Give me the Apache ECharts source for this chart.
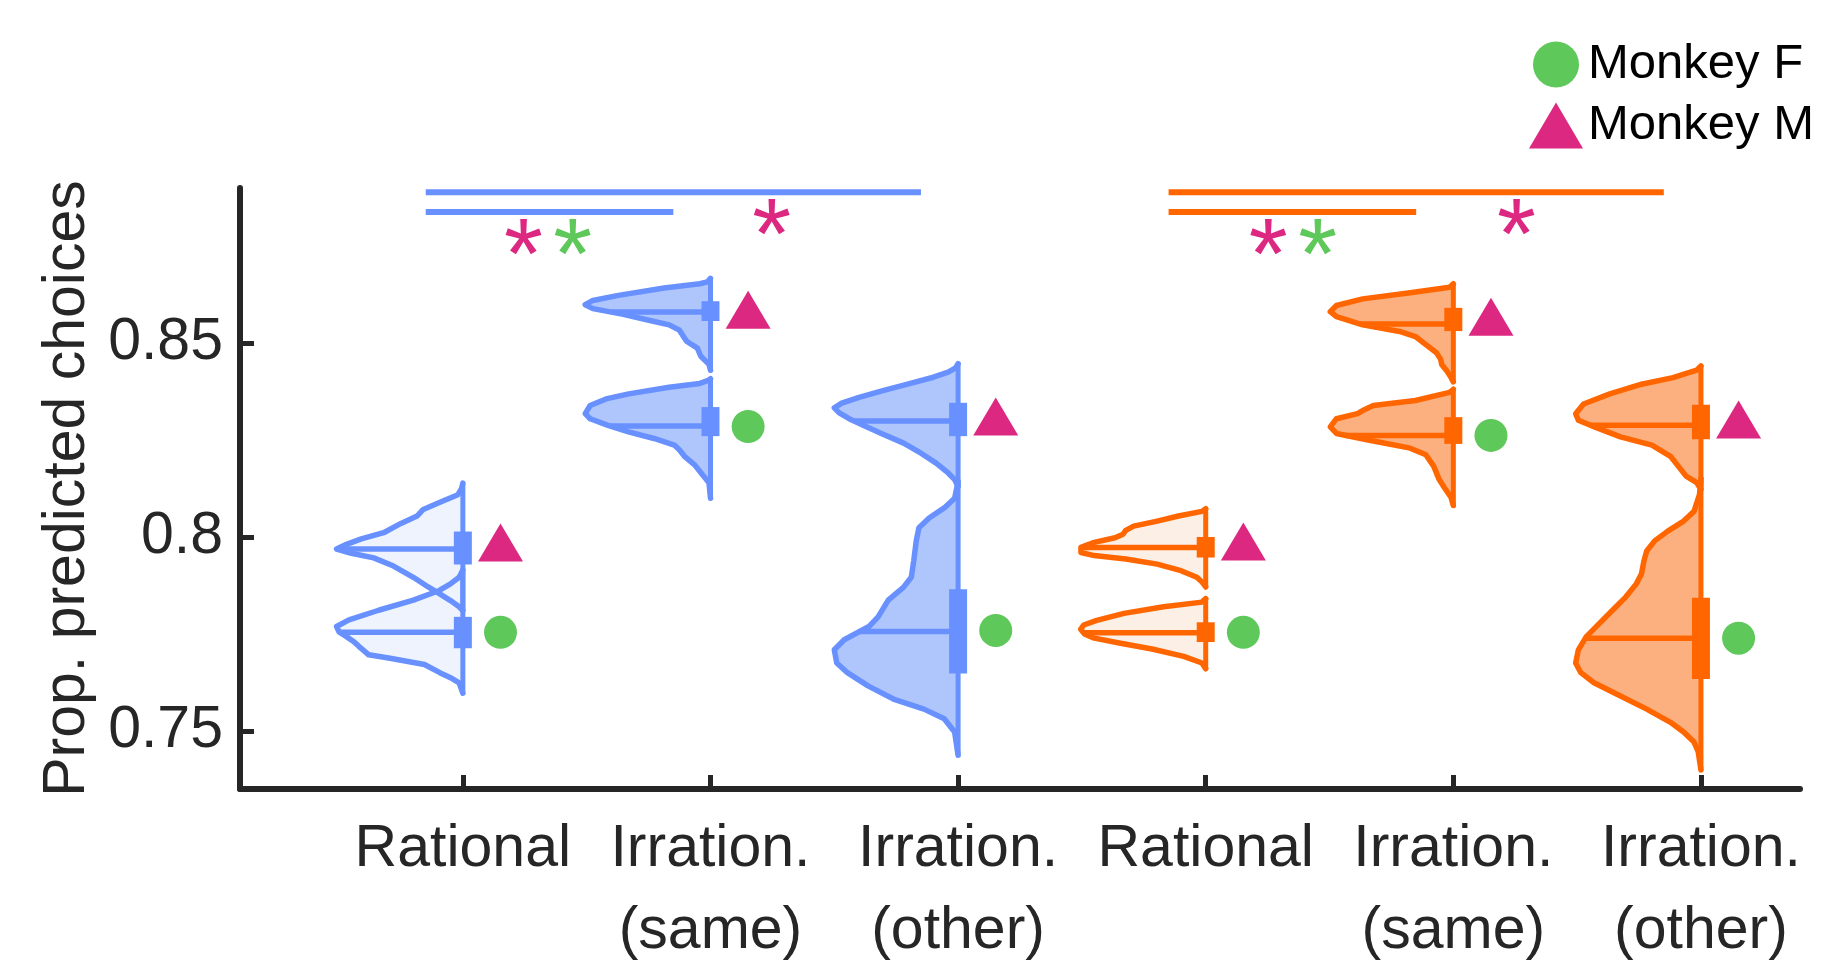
<!DOCTYPE html>
<html><head><meta charset="utf-8">
<script src="https://cdn.jsdelivr.net/npm/echarts@6/dist/echarts.min.js"></script>
<style>html,body{margin:0;padding:0;background:#fff}#c{width:1826px;height:973px}</style>
</head><body><div id="c"></div>
<script>
// ---------- data ----------
const categories = ['Rational', 'Irration.\n(same)', 'Irration.\n(other)', 'Rational', 'Irration.\n(same)', 'Irration.\n(other)'];
const categoryPos = [1, 2, 3, 4, 5, 6];
const yTickValues = [0.75, 0.8, 0.85];

// per-monkey values (markers), one per category
const monkeyF = [0.7754, 0.8285, 0.7759, 0.7754, 0.8262, 0.7739];
const monkeyM = [0.7986, 0.8586, 0.8311, 0.7988, 0.8568, 0.8303];

// half-violin density profiles: [value, half-width in category units]
const profile1M = [[0.8139,0],[0.8125,0.005],[0.8109,0.02],[0.809,0.09],[0.8071,0.16],[0.8054,0.185],[0.8035,0.25],[0.8011,0.32],[0.7995,0.41],[0.7981,0.47],[0.7969,0.51],[0.7958,0.45],[0.7946,0.36],[0.7925,0.28],[0.7896,0.2],[0.7871,0.14],[0.7854,0.095],[0.7836,0.05],[0.782,0.015],[0.781,0]];
const profile1F = [[0.7915,0],[0.7896,0.015],[0.7879,0.05],[0.7862,0.095],[0.7837,0.2],[0.7811,0.34],[0.7786,0.46],[0.7769,0.51],[0.7755,0.5],[0.7743,0.47],[0.773,0.44],[0.7718,0.42],[0.7696,0.38],[0.7688,0.3],[0.7671,0.155],[0.765,0.093],[0.7637,0.05],[0.7624,0.015],[0.7597,0]];
const profile2M = [[0.8667,0],[0.8658,0.012],[0.8653,0.043],[0.8642,0.187],[0.8623,0.372],[0.861,0.475],[0.8599,0.506],[0.8589,0.475],[0.8574,0.352],[0.8559,0.249],[0.8547,0.167],[0.8534,0.126],[0.8513,0.105],[0.8504,0.095],[0.8487,0.053],[0.8466,0.039],[0.8445,0.006],[0.843,0]];
const profile2F = [[0.8408,0],[0.8403,0.012],[0.8396,0.043],[0.8386,0.167],[0.8369,0.33],[0.8356,0.422],[0.8339,0.486],[0.8318,0.506],[0.8305,0.486],[0.8288,0.414],[0.8271,0.331],[0.8254,0.228],[0.8237,0.146],[0.8225,0.126],[0.8208,0.105],[0.8186,0.064],[0.8161,0.033],[0.814,0.006],[0.81,0]];
const profile3M = [[0.8447,0],[0.8436,0.01],[0.8425,0.04],[0.8412,0.1],[0.8395,0.2],[0.8378,0.3],[0.836,0.4],[0.8345,0.47],[0.8333,0.5],[0.832,0.48],[0.8305,0.44],[0.829,0.39],[0.8267,0.31],[0.8242,0.22],[0.8216,0.15],[0.8191,0.09],[0.8165,0.04],[0.8148,0.014],[0.813,0]];
const profile3F = [[0.8143,0],[0.81,0.014],[0.8075,0.056],[0.8049,0.117],[0.8024,0.158],[0.799,0.169],[0.7939,0.179],[0.7896,0.189],[0.787,0.221],[0.7837,0.282],[0.7794,0.323],[0.7769,0.36],[0.7735,0.46],[0.7709,0.5],[0.7675,0.49],[0.765,0.447],[0.7616,0.364],[0.7582,0.261],[0.7556,0.138],[0.7531,0.056],[0.7497,0.014],[0.7437,0]];
const profile4M = [[0.8073,0],[0.8066,0.015],[0.8054,0.11],[0.8041,0.196],[0.8028,0.291],[0.8017,0.323],[0.8007,0.334],[0.7998,0.366],[0.7986,0.45],[0.7973,0.504],[0.796,0.504],[0.7952,0.45],[0.7943,0.323],[0.793,0.196],[0.7913,0.1],[0.7896,0.036],[0.7884,0.015],[0.7871,0]];
const profile4F = [[0.7841,0],[0.7832,0.015],[0.782,0.17],[0.7803,0.33],[0.7785,0.44],[0.7773,0.493],[0.7762,0.505],[0.775,0.49],[0.7739,0.45],[0.7726,0.344],[0.7711,0.217],[0.7692,0.089],[0.7675,0.015],[0.766,0]];
const profile5M = [[0.8653,0],[0.8644,0.015],[0.863,0.174],[0.8614,0.366],[0.8597,0.472],[0.8581,0.497],[0.8568,0.472],[0.8547,0.366],[0.853,0.217],[0.8517,0.153],[0.8496,0.111],[0.8475,0.068],[0.8458,0.051],[0.8445,0.047],[0.8428,0.026],[0.8411,0.009],[0.84,0]];
const profile5F = [[0.8381,0],[0.8373,0.015],[0.8352,0.153],[0.8339,0.323],[0.8326,0.366],[0.8318,0.387],[0.8305,0.472],[0.8284,0.497],[0.8267,0.472],[0.825,0.344],[0.8229,0.174],[0.8212,0.111],[0.8182,0.079],[0.8148,0.057],[0.8127,0.036],[0.8102,0.009],[0.8081,0]];
const profile6M = [[0.8441,0],[0.843,0.017],[0.8411,0.113],[0.8394,0.24],[0.8369,0.368],[0.8343,0.474],[0.8318,0.506],[0.8301,0.495],[0.8284,0.43],[0.8258,0.325],[0.8237,0.198],[0.8208,0.123],[0.8182,0.091],[0.8157,0.06],[0.814,0.017],[0.8123,0]];
const profile6F = [[0.8151,0],[0.8109,0.006],[0.8066,0.028],[0.8041,0.07],[0.8015,0.134],[0.799,0.187],[0.7964,0.219],[0.7939,0.23],[0.7905,0.24],[0.7879,0.261],[0.7845,0.304],[0.7811,0.357],[0.7777,0.41],[0.7743,0.463],[0.7709,0.495],[0.7675,0.506],[0.765,0.485],[0.7624,0.432],[0.759,0.325],[0.7556,0.219],[0.7522,0.123],[0.7497,0.07],[0.7471,0.028],[0.7446,0.011],[0.7399,0]];

// box stats: [median, q1, q3]
const stats1M = [0.7969, 0.7929, 0.8014];
const stats1F = [0.7754, 0.7713, 0.7794];
const stats2M = [0.858, 0.8557, 0.8608];
const stats2F = [0.8286, 0.826, 0.8335];
const stats3M = [0.8299, 0.826, 0.8346];
const stats3F = [0.7756, 0.7648, 0.7865];
const stats4M = [0.7973, 0.7947, 0.8];
const stats4F = [0.7753, 0.7729, 0.778];
const stats5M = [0.8549, 0.8531, 0.8591];
const stats5F = [0.8262, 0.824, 0.8309];
const stats6M = [0.8288, 0.8252, 0.8341];
const stats6F = [0.7739, 0.7634, 0.7843];

// significance bars: [x from, x to, y]
const sigBars = [[0.85, 2.85, 0.8889], [0.85, 1.85, 0.8838], [3.85, 5.85, 0.8889], [3.85, 4.85, 0.8838]];
// significance stars: [x, y, monkey]
const sigStars = [[1.245, 0.8775, 'M'], [1.444, 0.8775, 'F'], [2.247, 0.8827, 'M'], [4.252, 0.8775, 'M'], [4.452, 0.8775, 'F'], [5.255, 0.8827, 'M']];

// ---------- styles ----------
const BLUE = '#6891FF', ORANGE = '#FF6600';
const PINK = '#DC2880', GREEN = '#5EC85A';
const AX = '#262626';
const FONT = 'Liberation Sans';
const markerOffset = 0.152;

const violins = [
  {cat: 1, p: profile1M, s: stats1M}, {cat: 1, p: profile1F, s: stats1F},
  {cat: 2, p: profile2M, s: stats2M}, {cat: 2, p: profile2F, s: stats2F},
  {cat: 3, p: profile3M, s: stats3M}, {cat: 3, p: profile3F, s: stats3F},
  {cat: 4, p: profile4M, s: stats4M}, {cat: 4, p: profile4F, s: stats4F},
  {cat: 5, p: profile5M, s: stats5M}, {cat: 5, p: profile5F, s: stats5F},
  {cat: 6, p: profile6M, s: stats6M}, {cat: 6, p: profile6F, s: stats6F}
];
const lineColor = c => c <= 3 ? BLUE : ORANGE;
const fillColor = c => {
  const light = (c === 1 || c === 4);
  if (c <= 3) return light ? '#EEF3FE' : '#AFC6FD';
  return light ? '#FCEFE6' : '#FDB07F';
};
function widthAt(p, y) {
  for (let i = 0; i < p.length - 1; i++) {
    const a = p[i], b = p[i + 1];
    if ((y <= a[0] && y >= b[0])) {
      const t = (a[0] - y) / (a[0] - b[0] || 1);
      return a[1] + t * (b[1] - a[1]);
    }
  }
  return 0;
}

const chart = echarts.init(document.getElementById('c'), null, {renderer: 'canvas'});
const option = {
  animation: false,
  backgroundColor: '#fff',
  grid: {left: 240, right: 26, top: 188, bottom: 175},
  legend: {
    orient: 'vertical', left: 1524, top: 35,
    itemWidth: 54, itemHeight: 46, itemGap: 12,
    textStyle: {fontSize: 49, color: '#000', fontFamily: FONT},
    data: [{name: 'Monkey F', icon: 'circle'}, {name: 'Monkey M', icon: 'triangle'}]
  },
  xAxis: {
    type: 'value', min: 0.1, max: 6.4,
    axisLine: {show: true, onZero: false, lineStyle: {color: AX, width: 6}},
    axisTick: {show: true, inside: true, length: 14, customValues: categoryPos, lineStyle: {color: AX, width: 5}},
    axisLabel: {customValues: categoryPos, formatter: v => categories[Math.round(v) - 1],
      fontSize: 59, lineHeight: 82, color: AX, margin: 20, fontFamily: FONT},
    splitLine: {show: false}
  },
  yAxis: {
    type: 'value', min: 0.735, max: 0.89,
    name: 'Prop. predicted choices', nameLocation: 'middle', nameGap: 138,
    nameTextStyle: {fontSize: 59, color: AX, fontFamily: FONT},
    axisLine: {show: true, lineStyle: {color: AX, width: 6}},
    axisTick: {show: true, inside: true, length: 14, customValues: yTickValues, lineStyle: {color: AX, width: 5}},
    axisLabel: {customValues: yTickValues, formatter: v => String(+(+v).toFixed(2)),
      fontSize: 59, color: AX, margin: 17, fontFamily: FONT},
    splitLine: {show: false}
  },
  series: [
    {
      type: 'custom', name: 'fills', clip: false, z: 2,
      data: violins.map((v, i) => [i]),
      renderItem: (params, api) => {
        const v = violins[params.dataIndex];
        const pts = v.p.map(([y, w]) => api.coord([v.cat - w, y]));
        return {type: 'polygon', shape: {points: pts}, style: {fill: fillColor(v.cat), stroke: null}};
      }
    },
    {
      type: 'custom', name: 'outlines', clip: false, z: 3,
      data: violins.map((v, i) => [i]),
      renderItem: (params, api) => {
        const v = violins[params.dataIndex];
        const col = lineColor(v.cat);
        const pts = v.p.map(([y, w]) => api.coord([v.cat - w, y]));
        const top = api.coord([v.cat, v.p[0][0]]);
        const bot = api.coord([v.cat, v.p[v.p.length - 1][0]]);
        const [med, q1, q3] = v.s;
        const mL = api.coord([v.cat - widthAt(v.p, med), med]);
        const mR = api.coord([v.cat, med]);
        const bT = api.coord([v.cat, q3]);
        const bB = api.coord([v.cat, q1]);
        return {type: 'group', children: [
          {type: 'polyline', shape: {points: pts}, style: {stroke: col, lineWidth: 5.5, fill: null, lineJoin: 'round', lineCap: 'round'}},
          {type: 'line', shape: {x1: top[0], y1: top[1], x2: bot[0], y2: bot[1]}, style: {stroke: col, lineWidth: 5}},
          {type: 'line', shape: {x1: mL[0], y1: mL[1], x2: mR[0], y2: mR[1]}, style: {stroke: col, lineWidth: 5.5}},
          {type: 'rect', shape: {x: bT[0] - 9, y: bT[1], width: 18, height: bB[1] - bT[1]}, style: {fill: col}}
        ]};
      }
    },
    {
      type: 'custom', name: 'sigbars', clip: false, z: 3,
      data: sigBars,
      renderItem: (params, api) => {
        const b = sigBars[params.dataIndex];
        const a = api.coord([b[0], b[2]]), c = api.coord([b[1], b[2]]);
        return {type: 'line', shape: {x1: a[0], y1: a[1], x2: c[0], y2: c[1]},
          style: {stroke: b[0] < 3.5 ? BLUE : ORANGE, lineWidth: 6}};
      }
    },
    {
      type: 'custom', name: 'stars', clip: false, z: 3,
      data: sigStars,
      renderItem: (params, api) => {
        const s = sigStars[params.dataIndex];
        const p = api.coord([s[0], s[1]]);
        return {type: 'text', x: p[0], y: p[1] + 24,
          style: {text: '*', fill: s[2] === 'M' ? PINK : GREEN, font: '100px "Liberation Sans"',
            textAlign: 'center', textVerticalAlign: 'middle'}};
      }
    },
    {
      type: 'scatter', name: 'Monkey F', symbol: 'circle', symbolSize: 33, z: 4,
      itemStyle: {color: GREEN, opacity: 1},
      data: categoryPos.map((c, i) => [c + markerOffset, monkeyF[i]])
    },
    {
      type: 'scatter', name: 'Monkey M', symbol: 'triangle', symbolSize: [45, 38], z: 4,
      itemStyle: {color: PINK, opacity: 1},
      data: categoryPos.map((c, i) => [c + markerOffset, monkeyM[i]])
    }
  ]
};
chart.setOption(option);
</script>
</body></html>
